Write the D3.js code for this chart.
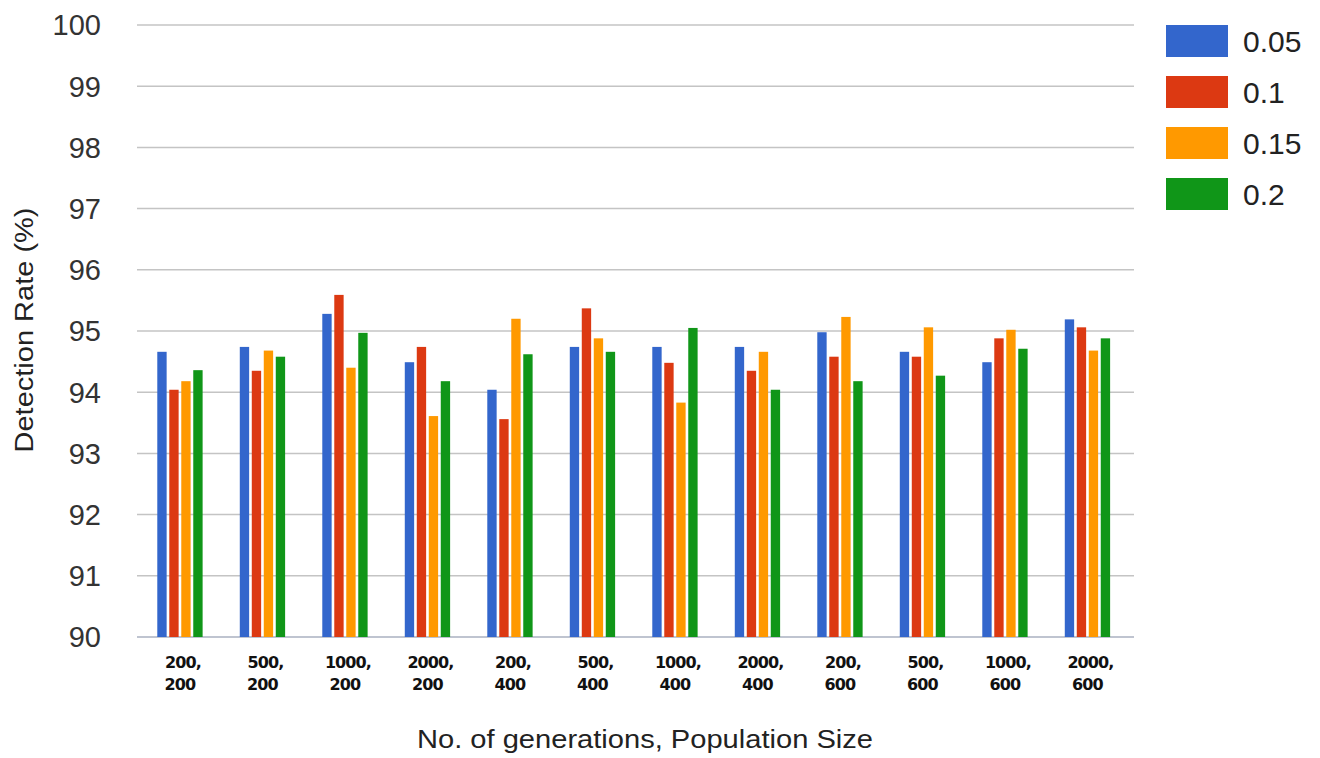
<!DOCTYPE html>
<html><head><meta charset="utf-8">
<script src="https://cdn.jsdelivr.net/npm/d3@7"></script>
<style>body{margin:0;background:#fff;} svg{display:block;}</style>
</head><body>
<svg id="c" width="1320" height="758"></svg>
<script>
const categories = [["200,","200"],["500,","200"],["1000,","200"],["2000,","200"],["200,","400"],["500,","400"],["1000,","400"],["2000,","400"],["200,","600"],["500,","600"],["1000,","600"],["2000,","600"]];
const seriesNames = ["0.05","0.1","0.15","0.2"];
const s005 = [94.66,94.74,95.28,94.49,94.04,94.74,94.74,94.74,94.98,94.66,94.49,95.19];
const s01  = [94.04,94.35,95.59,94.74,93.56,95.37,94.48,94.35,94.58,94.58,94.88,95.06];
const s015 = [94.18,94.68,94.40,93.61,95.20,94.88,93.83,94.66,95.23,95.06,95.02,94.68];
const s02  = [94.36,94.58,94.97,94.18,94.62,94.66,95.05,94.04,94.18,94.27,94.71,94.88];
const yTicks = [90,91,92,93,94,95,96,97,98,99,100];
const colors = ["#3366cc","#dc3912","#ff9900","#109618"];
const series = [s005,s01,s015,s02];

(function(){
const svg = d3.select("#c");
const pLeft = 138.7, pRight = 1128.7, pTop = 25, pBottom = 637;
const x0 = d3.scaleBand().domain(d3.range(categories.length)).range([pLeft,pRight]).paddingInner(0).paddingOuter(0);
const x1 = d3.scaleBand().domain(d3.range(series.length)).range([0, x0.bandwidth()]).paddingInner(0.22).paddingOuter(1.55);
const y = d3.scaleLinear().domain([90,100]).range([pBottom, pTop]);
const font = "Liberation Sans, Arial, sans-serif";

svg.append("g").selectAll("line").data(yTicks).join("line")
  .attr("x1",137).attr("x2",1134)
  .attr("y1",d=>y(d)).attr("y2",d=>y(d))
  .attr("stroke",d=>d===90?"#aab0c0":"#c4c4c4").attr("stroke-width",1.5);

svg.append("g").selectAll("text").data(yTicks).join("text")
  .attr("x",101).attr("y",d=>y(d)).attr("dy","0.36em")
  .attr("text-anchor","end").attr("font-family",font)
  .attr("font-size",29).attr("fill","#333").text(d=>d);

const g = svg.append("g");
categories.forEach((c,i)=>{
  series.forEach((s,j)=>{
    g.append("rect")
      .attr("x", x0(i)+x1(j)).attr("width", x1.bandwidth())
      .attr("y", y(s[i])).attr("height", y(90)-y(s[i]))
      .attr("fill", colors[j]);
  });
});

const xl = svg.append("g");
categories.forEach((c,i)=>{
  const cx = x0(i)+x0.bandwidth()/2;
  c.forEach((t,k)=>{
    xl.append("text").attr("x",cx+(k===0?3:0)).attr("y",668+k*22)
      .attr("text-anchor","middle").attr("font-family","DejaVu Sans, sans-serif")
      .attr("font-weight","bold").attr("font-size",16).attr("letter-spacing","-0.9")
      .attr("fill","#111").text(t);
  });
});

svg.append("text").attr("x",645).attr("y",748).attr("text-anchor","middle")
  .attr("font-family",font).attr("font-size",25).attr("fill","#222")
  .attr("textLength",456).attr("lengthAdjust","spacingAndGlyphs")
  .text("No. of generations, Population Size");
svg.append("text").attr("transform","translate(33,330) rotate(-90)").attr("text-anchor","middle")
  .attr("font-family",font).attr("font-size",25).attr("fill","#222")
  .attr("textLength",245).attr("lengthAdjust","spacingAndGlyphs")
  .text("Detection Rate (%)");

const lg = svg.append("g");
seriesNames.forEach((n,j)=>{
  const yy = 25 + j*51;
  lg.append("rect").attr("x",1166).attr("y",yy).attr("width",62).attr("height",32).attr("fill",colors[j]);
  lg.append("text").attr("x",1243).attr("y",yy+16).attr("dy","0.36em")
    .attr("font-family",font).attr("font-size",30).attr("fill","#222").text(n);
});
})();
</script>
</body></html>
